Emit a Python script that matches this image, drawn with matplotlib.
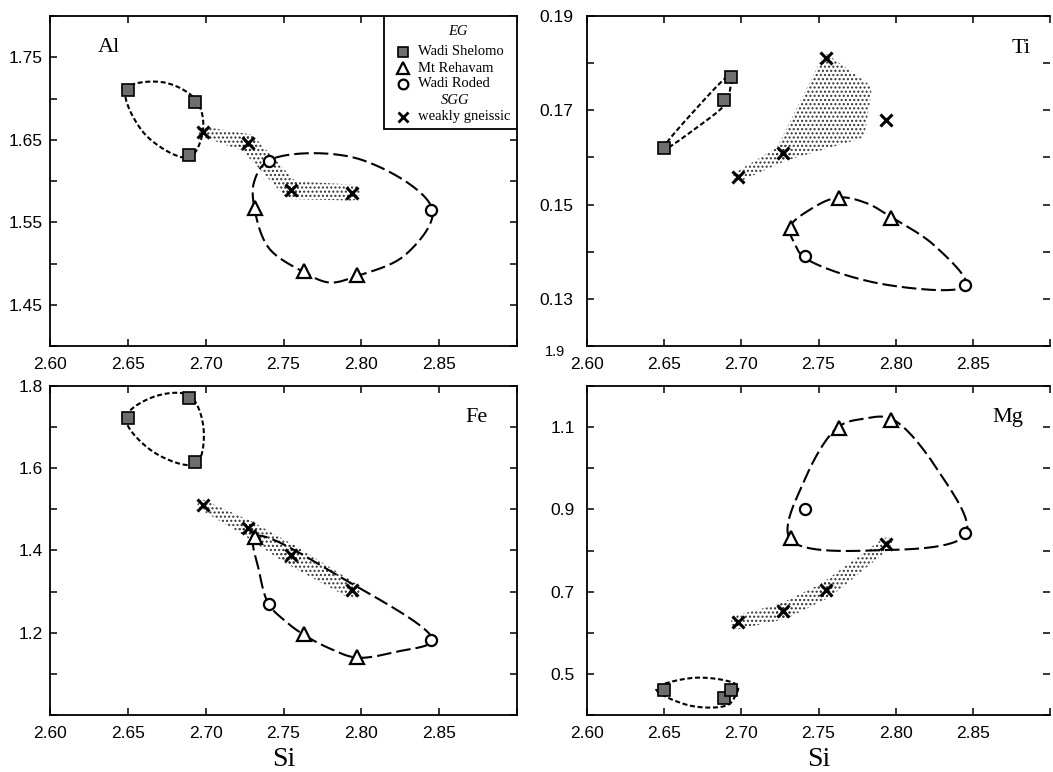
import numpy as np
import matplotlib
matplotlib.use("Agg")
import matplotlib.pyplot as plt
from matplotlib.patches import Polygon, Rectangle

# ── Data: Si vs. Al / Ti / Fe / Mg (a.p.f.u.) ─────────────────────────
si_ws  = [2.650, 2.689, 2.693]            # Wadi Shelomo
si_mr  = [2.732, 2.763, 2.797]            # Mt Rehavam
si_wr  = [2.741, 2.845]                   # Wadi Roded
si_sgg = [2.698, 2.727, 2.755, 2.794]     # weakly gneissic

al_ws  = [1.710, 1.631, 1.696]
al_mr  = [1.567, 1.491, 1.486]
al_wr  = [1.624, 1.565]
al_sgg = [1.660, 1.646, 1.589, 1.586]

ti_ws  = [0.1619, 0.1721, 0.1771]
ti_mr  = [0.1451, 0.1513, 0.1471]
ti_wr  = [0.1390, 0.1330]
ti_sgg = [0.1559, 0.1609, 0.1810, 0.1680]

fe_ws  = [1.722, 1.772, 1.615]
fe_mr  = [1.432, 1.198, 1.142]
fe_wr  = [1.271, 1.182]
fe_sgg = [1.511, 1.454, 1.389, 1.303]

mg_ws  = [0.462, 0.442, 0.462]
mg_mr  = [0.830, 1.098, 1.118]
mg_wr  = [0.900, 0.842]
mg_sgg = [0.626, 0.652, 0.704, 0.817]

xticks = [2.60, 2.65, 2.70, 2.75, 2.80, 2.85, 2.90]
xlabels = ["2.60", "2.65", "2.70", "2.75", "2.80", "2.85", ""]

W, H = 1053, 772
SERIF = "Liberation Serif"
plt.rcParams["font.family"] = "Liberation Sans"
plt.rcParams["hatch.linewidth"] = 1.0


def box(l, t, r, b):
    return [l / W, 1 - b / H, (r - l) / W, (b - t) / H]


def px_scale(ax):
    bb = ax.get_position()
    x0, x1 = ax.get_xlim()
    y0, y1 = ax.get_ylim()
    return bb.width * W / (x1 - x0), bb.height * H / (y1 - y0)


def hull(P):
    # monotone chain, counter-clockwise
    P = sorted(map(tuple, P))
    def cross(o, a, b):
        return (a[0] - o[0]) * (b[1] - o[1]) - (a[1] - o[1]) * (b[0] - o[0])
    lo, up = [], []
    for p in P:
        while len(lo) >= 2 and cross(lo[-2], lo[-1], p) <= 0:
            lo.pop()
        lo.append(p)
    for p in reversed(P):
        while len(up) >= 2 and cross(up[-2], up[-1], p) <= 0:
            up.pop()
        up.append(p)
    return np.array(lo[:-1] + up[:-1])


def cr_seg(p0, p1, p2, p3, n, alpha=0.5):
    # centripetal Catmull-Rom between p1 and p2
    def nxt(t, a, b):
        return t + max(np.linalg.norm(b - a), 1e-6) ** alpha
    t0 = 0.0
    t1 = nxt(t0, p0, p1)
    t2 = nxt(t1, p1, p2)
    t3 = nxt(t2, p2, p3)
    t = np.linspace(t1, t2, n, endpoint=False)[:, None]
    a1 = (t1 - t) / (t1 - t0) * p0 + (t - t0) / (t1 - t0) * p1
    a2 = (t2 - t) / (t2 - t1) * p1 + (t - t1) / (t2 - t1) * p2
    a3 = (t3 - t) / (t3 - t2) * p2 + (t - t2) / (t3 - t2) * p3
    b1 = (t2 - t) / (t2 - t0) * a1 + (t - t0) / (t2 - t0) * a2
    b2 = (t3 - t) / (t3 - t1) * a2 + (t - t1) / (t3 - t1) * a3
    return (t2 - t) / (t2 - t1) * b1 + (t - t1) / (t2 - t1) * b2


def closed_curve(pts, n=30):
    k = len(pts)
    c = np.vstack([cr_seg(pts[i - 1], pts[i], pts[(i + 1) % k], pts[(i + 2) % k], n)
                   for i in range(k)])
    return np.vstack([c, c[:1]])


def envelope(ax, xs, ys, pad, bulge, **kw):
    """Smooth closed dashed outline around a group of samples."""
    sx, sy = px_scale(ax)
    hp = hull(np.column_stack([np.asarray(xs) * sx, np.asarray(ys) * sy]))
    n = len(hp)
    verts = []
    for i in range(n):
        a = hp[i] - hp[i - 1]
        b = hp[(i + 1) % n] - hp[i]
        na = np.array([a[1], -a[0]]) / np.linalg.norm(a)
        nb = np.array([b[1], -b[0]]) / np.linalg.norm(b)
        d = na + nb
        verts.append(hp[i] + pad * d / np.linalg.norm(d))
    pts = []
    for i in range(n):
        a, b = verts[i], verts[(i + 1) % n]
        e = b - a
        L = np.linalg.norm(e)
        pts.append(a)
        pts.append((a + b) / 2 + bulge * L * np.array([e[1], -e[0]]) / L)
    c = closed_curve(pts)
    ax.plot(c[:, 0] / sx, c[:, 1] / sy, color="k", lw=1.5, zorder=2, **kw)


def stipple(ax, xs, ys, anchors):
    """Dotted field: rounded hull of circles placed along the sample trend."""
    sx, sy = px_scale(ax)
    ang = np.linspace(0, 2 * np.pi, 48, endpoint=False)
    pts = []
    for i, j, t, r in anchors:
        x = (xs[i] + t * (xs[j] - xs[i])) * sx
        y = (ys[i] + t * (ys[j] - ys[i])) * sy
        pts.append(np.column_stack([x + r * np.cos(ang), y + r * np.sin(ang)]))
    hp = hull(np.vstack(pts))
    ax.add_patch(Polygon(np.column_stack([hp[:, 0] / sx, hp[:, 1] / sy]),
                         closed=True, facecolor="none", edgecolor="0.2",
                         lw=0, hatch="....", zorder=1))


def chain(radii):
    return [[(k, k, 0.0, radii[k]), (k + 1, k + 1, 0.0, radii[k + 1])]
            for k in range(len(radii) - 1)]


SHORT = (0, (2.4, 1.3))
LONG = (0, (7.0, 2.4))

panels = [
    dict(name="Al", pos=box(50, 16, 517, 346), ys=(al_ws, al_mr, al_wr, al_sgg),
         ylim=(1.40, 1.80), yticks=np.arange(1.40, 1.801, 0.05),
         ylab=["", "1.45", "", "1.55", "", "1.65", "", "1.75", ""],
         ypad=5, ws=(2, 0.18), eg=(1, 0.16), lab=(0.103, 0.906, "left"),
         field=chain([5, 9, 9, 8]), xlabel=False),
    dict(name="Ti", pos=box(587, 16, 1050, 346), ys=(ti_ws, ti_mr, ti_wr, ti_sgg),
         ylim=(0.12, 0.19), yticks=np.arange(0.12, 0.1901, 0.01),
         ylab=["", "0.13", "", "0.15", "", "0.17", "", "0.19"],
         ypad=10, ws=(3, 0.03), eg=(1, 0.08), lab=(0.959, 0.903, "right"),
         field=chain([5, 8]) + [[(1, 1, 0.0, 8), (2, 2, 0.0, 4),
                                 (2, 3, 0.55, 12), (1, 3, 0.7, 10)]],
         xlabel=False),
    dict(name="Fe", pos=box(50, 386, 517, 715), ys=(fe_ws, fe_mr, fe_wr, fe_sgg),
         ylim=(1.0, 1.8), yticks=np.arange(1.0, 1.801, 0.1),
         ylab=["", "", "1.2", "", "1.4", "", "1.6", "", "1.8"],
         ypad=5, ws=(2, 0.16), eg=(1, 0.04), lab=(0.938, 0.903, "right"),
         field=chain([5, 8, 10, 8]), xlabel=True),
    dict(name="Mg", pos=box(587, 386, 1050, 715), ys=(mg_ws, mg_mr, mg_wr, mg_sgg),
         ylim=(0.4, 1.2), yticks=np.arange(0.4, 1.201, 0.1),
         ylab=["", "0.5", "", "0.7", "", "0.9", "", "1.1", ""],
         ypad=9, ws=(8, 0.12), eg=(1, 0.08), lab=(0.942, 0.903, "right"),
         field=chain([7, 8, 8, 6]), xlabel=True),
]

fig = plt.figure(figsize=(W / 100, H / 100), dpi=100)

for p in panels:
    ax = fig.add_axes(p["pos"])
    ax.set_xlim(2.60, 2.90)
    ax.set_ylim(*p["ylim"])
    ax.set_xticks(xticks)
    ax.set_xticklabels(xlabels)
    ax.set_yticks(p["yticks"])
    ax.set_yticklabels(p["ylab"])
    ax.tick_params(direction="in", length=5, width=1.1, top=True, right=True,
                   labelsize=12.5, colors="k")
    ax.tick_params(axis="x", pad=8)
    ax.tick_params(axis="y", pad=p["ypad"])
    for s in ax.spines.values():
        s.set_linewidth(1.3)
    if p["name"] in ("Ti", "Mg"):
        ax.spines["right"].set_visible(False)

    y_ws, y_mr, y_wr, y_sgg = p["ys"]

    for blob in p["field"]:
        stipple(ax, si_sgg, y_sgg, blob)
    envelope(ax, si_ws, y_ws, *p["ws"], ls=SHORT)
    envelope(ax, si_mr + si_wr, y_mr + y_wr, *p["eg"], ls=LONG)

    ax.plot(si_ws, y_ws, "s", ms=8, mfc="#6e6e6e", mec="k", mew=1.2, zorder=4)
    ax.plot(si_mr, y_mr, "^", ms=10, mfc="white", mec="k", mew=1.6, zorder=4)
    ax.plot(si_wr, y_wr, "o", ms=8, mfc="white", mec="k", mew=1.6, zorder=4)
    ax.plot(si_sgg, y_sgg, "x", ms=8.5, mew=2.2, color="k", zorder=4)

    lx, ly, ha = p["lab"]
    ax.text(lx, ly, p["name"], transform=ax.transAxes, ha=ha, va="center",
            fontsize=16, family=SERIF)

    if p["xlabel"]:
        ax.set_xlabel("Si", family=SERIF, fontsize=20, labelpad=4)

    if p["name"] == "Al":
        # legend box in the upper right corner
        ax.add_patch(Rectangle((0.715, 0.658), 0.285, 0.342, transform=ax.transAxes,
                               facecolor="white", edgecolor="k", lw=1.3, zorder=5))
        kw = dict(transform=ax.transAxes, fontsize=10.5, family=SERIF, va="center", zorder=6)
        ax.text(0.874, 0.952, "EG", ha="center", style="italic", **kw)
        ax.text(0.867, 0.745, "SGG", ha="center", style="italic", **kw)
        rows = [("s", dict(ms=7.5, mfc="#6e6e6e", mec="k", mew=1.2), "Wadi Shelomo", 0.891),
                ("^", dict(ms=8.5, mfc="white", mec="k", mew=1.6), "Mt Rehavam", 0.842),
                ("o", dict(ms=7, mfc="white", mec="k", mew=1.6), "Wadi Roded", 0.794),
                ("x", dict(ms=7.5, mew=2.0, color="k"), "weakly gneissic", 0.694)]
        for m, mk, label, y in rows:
            ax.plot([0.756], [y], m, transform=ax.transAxes, zorder=6, clip_on=False, **mk)
            ax.text(0.788, y, label, ha="left", **kw)

fig.text(565 / W, 1 - 352 / H, "1.9", ha="right", va="center", fontsize=10.5)

fig.savefig("out.png", dpi=100)
